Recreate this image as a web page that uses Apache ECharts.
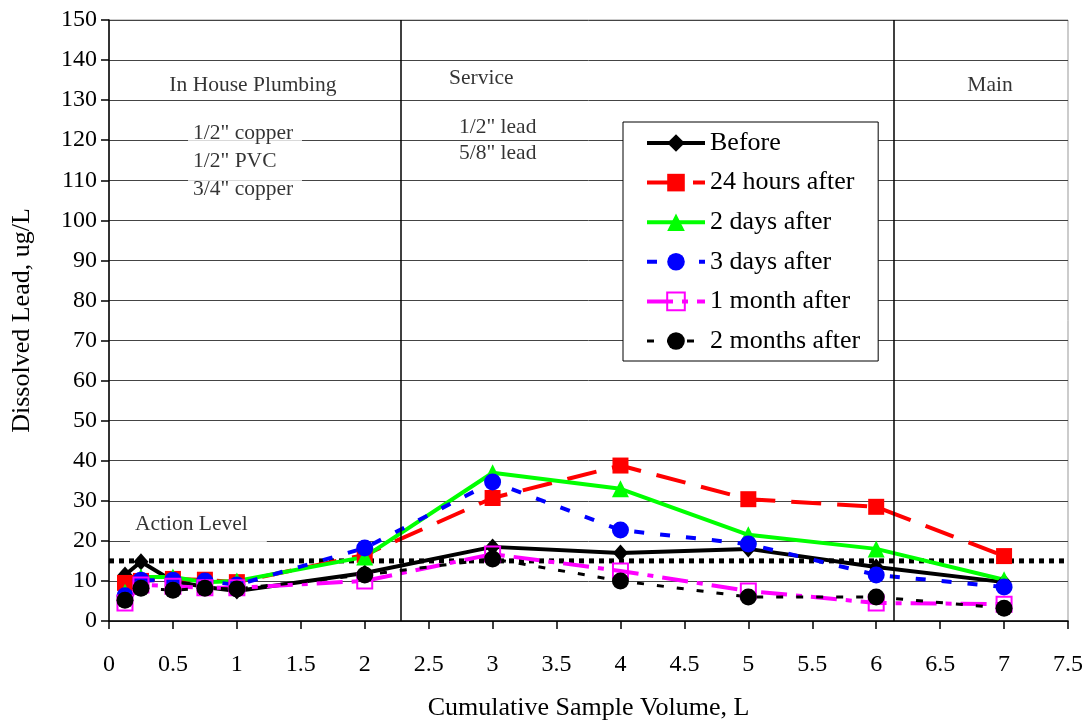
<!DOCTYPE html>
<html>
<head>
<meta charset="utf-8">
<script src="https://cdn.jsdelivr.net/npm/echarts@6/dist/echarts.min.js"></script>
<style>
html,body{margin:0;padding:0;background:#fff;}
#chart{width:1088px;height:721px;}
</style>
</head>
<body>
<div id="chart"></div>
<script>
// ---- data ----
const xValues = [0.125, 0.25, 0.5, 0.75, 1, 2, 3, 4, 5, 6, 7];
const seriesNames = ['Before', '24 hours after', '2 days after', '3 days after', '1 month after', '2 months after'];
const before   = [11.5, 14.8, 10, 8.5, 7.5, 12, 18.5, 17, 18, 13.5, 9.7];
const hours24  = [9.5, 10, 10.5, 10.3, 9.7, 16.5, 30.7, 38.8, 30.4, 28.5, 16.2];
const days2    = [7.2, 11, 11, 9.7, 10, 16, 37, 33, 21.5, 18, 10.3];
const days3    = [6.3, 10.2, 10.2, 10, 9, 18.2, 34.7, 22.7, 19.2, 11.5, 8.5];
const month1   = [4.5, 9, 8.7, 8.3, 8.3, 10, 16.7, 12.5, 7.5, 4.5, 4.2];
const months2  = [5.2, 8.2, 7.7, 8.2, 8, 11.5, 15.5, 10, 6, 6, 3.2];
const actionLevel = 15;
const actionLevelRange = [0, 7.5];
const boundaries = [2.28, 6.14];
const xTicks = [0, 0.5, 1, 1.5, 2, 2.5, 3, 3.5, 4, 4.5, 5, 5.5, 6, 6.5, 7, 7.5];
const yTicks = [0, 10, 20, 30, 40, 50, 60, 70, 80, 90, 100, 110, 120, 130, 140, 150];
// annotation texts with their anchor (data coords)
const annotationTexts = ['In House Plumbing', '1/2" copper\n1/2" PVC\n3/4" copper', 'Service', '1/2" lead\n5/8" lead', 'Main', 'Action Level'];
const annotationAnchors = [[1.126, 133.8], [0.618, 114.8], [2.659, 135.5], [2.737, 120.0], [6.89, 133.8], [0.164, 24.0]];

const FONT = "'Liberation Serif', 'Times New Roman', serif";
const pair = (ys) => xValues.map((x, i) => [x, ys[i]]);

const chart = echarts.init(document.getElementById('chart'), null, {renderer: 'canvas'});

const annLabelStyles = [
  {align: 'center'},
  {align: 'left', backgroundColor: '#fff', padding: [2, 4, 2, 5], lineHeight: 28, width: 105},
  {align: 'left'},
  {align: 'left', lineHeight: 26},
  {align: 'center'},
  {align: 'left', backgroundColor: '#fff', padding: [8, 19, 12, 5], lineHeight: 20}
];

const lineStyles = [
  {color: '#000', width: 4, type: 'solid'},
  {color: '#ff0000', width: 4, type: [30, 16]},
  {color: '#00ff00', width: 4, type: 'solid'},
  {color: '#0000ff', width: 4, type: [10, 16]},
  {color: '#ff00ff', width: 4, type: [26, 9, 6, 9]},
  {color: '#000', width: 3, type: [7, 13]}
];

const option = {
  animation: false,
  backgroundColor: '#fff',
  grid: {left: 109, right: 20, top: 20, bottom: 100, show: true, borderColor: '#999', borderWidth: 1, outerBoundsMode: 'none', containLabel: false},
  xAxis: {
    type: 'value', min: xTicks[0], max: xTicks[xTicks.length - 1], interval: 0.5,
    name: 'Cumulative Sample Volume, L', nameLocation: 'middle', nameGap: 74,
    nameTextStyle: {fontFamily: FONT, fontSize: 26, color: '#000'},
    axisLine: {show: true, onZero: false, lineStyle: {color: '#000', width: 1.5}},
    axisTick: {show: true, inside: false, length: 8, lineStyle: {color: '#000', width: 1.5}},
    axisLabel: {fontFamily: FONT, fontSize: 24, color: '#000', margin: 32},
    splitLine: {show: false}
  },
  yAxis: {
    type: 'value', min: yTicks[0], max: yTicks[yTicks.length - 1], interval: 10,
    name: 'Dissolved Lead, ug/L', nameLocation: 'middle', nameGap: 74,
    nameTextStyle: {fontFamily: FONT, fontSize: 26, color: '#000'},
    axisLine: {show: true, onZero: false, lineStyle: {color: '#000', width: 1.5}},
    axisTick: {show: true, inside: false, length: 8, lineStyle: {color: '#000', width: 1.5}},
    axisLabel: {fontFamily: FONT, fontSize: 24, color: '#000', margin: 12},
    splitLine: {show: true, lineStyle: {color: '#444', width: 1}}
  },
  legend: {
    orient: 'vertical', left: 623, top: 122,
    data: seriesNames.map((n, i) => ({name: n, lineStyle: lineStyles[i]})),
    backgroundColor: '#fff', borderColor: '#000', borderWidth: 1,
    padding: [8, 18, 7, 22],
    itemWidth: 58, itemHeight: 22, itemGap: 13.6,
    textStyle: {fontFamily: FONT, fontSize: 26, color: '#000', lineHeight: 26},
    z: 20
  },
  series: [
    {
      name: 'annotations', type: 'scatter', silent: true, z: 1,
      symbolSize: 0,
      data: annotationTexts.map((t, i) => ({
        value: annotationAnchors[i],
        label: Object.assign({
          show: true, position: 'inside', formatter: t,
          fontFamily: FONT, fontSize: 21.5, color: '#000', verticalAlign: 'middle'
        }, annLabelStyles[i])
      }))
    },
    {
      name: 'boundaries', type: 'line', data: [], silent: true, z: 2,
      markLine: {
        silent: true, symbol: ['none', 'none'], label: {show: false},
        lineStyle: {color: '#000', width: 1.5, type: 'solid'},
        data: boundaries.map(b => ({xAxis: b}))
      }
    },
    {
      name: 'Action Level', type: 'line', z: 3, symbol: 'none',
      data: actionLevelRange.map(x => [x, actionLevel]),
      lineStyle: {color: '#000', width: 5, type: [5, 5]}
    },
    {
      name: seriesNames[0], type: 'line', z: 4, data: pair(before),
      symbol: 'diamond', symbolSize: [15, 17],
      itemStyle: {color: '#000'},
      lineStyle: lineStyles[0]
    },
    {
      name: seriesNames[1], type: 'line', z: 4, data: pair(hours24),
      symbol: 'rect', symbolSize: 16,
      itemStyle: {color: '#ff0000'},
      lineStyle: lineStyles[1]
    },
    {
      name: seriesNames[2], type: 'line', z: 4, data: pair(days2),
      symbol: 'triangle', symbolSize: 17,
      itemStyle: {color: '#00ff00'},
      lineStyle: lineStyles[2]
    },
    {
      name: seriesNames[3], type: 'line', z: 4, data: pair(days3),
      symbol: 'circle', symbolSize: 17,
      itemStyle: {color: '#0000ff'},
      lineStyle: lineStyles[3]
    },
    {
      name: seriesNames[4], type: 'line', z: 4, data: pair(month1),
      symbol: 'rect', symbolSize: 15,
      itemStyle: {color: 'rgba(0,0,0,0)', borderColor: '#ff00ff', borderWidth: 2},
      lineStyle: lineStyles[4]
    },
    {
      name: seriesNames[5], type: 'line', z: 4, data: pair(months2),
      symbol: 'circle', symbolSize: 17,
      itemStyle: {color: '#000'},
      lineStyle: lineStyles[5]
    }
  ]
};
chart.setOption(option);
</script>
</body>
</html>
